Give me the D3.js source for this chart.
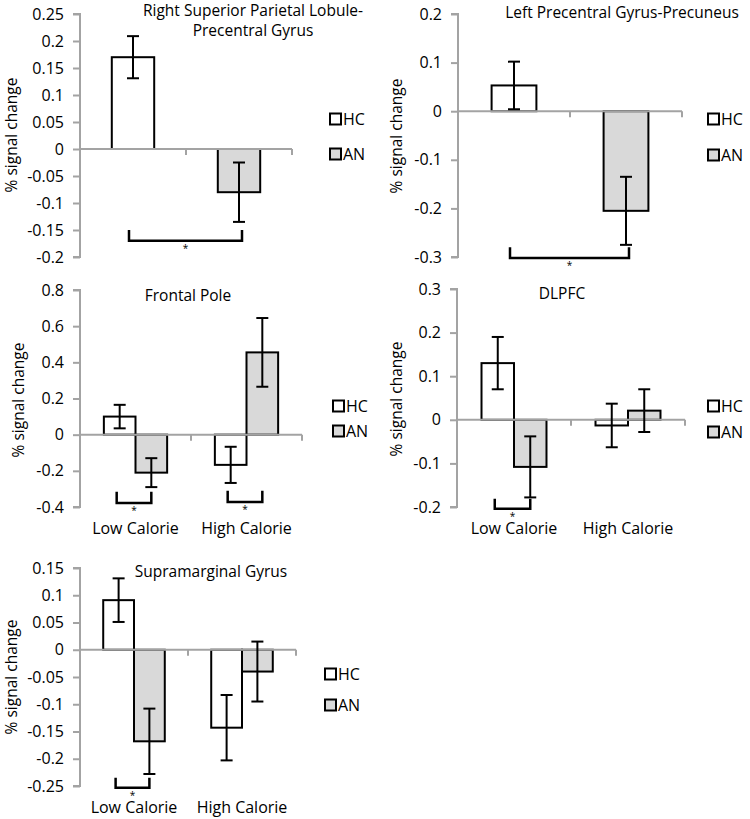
<!DOCTYPE html>
<html>
<head>
<meta charset="utf-8">
<script src="https://cdn.jsdelivr.net/npm/d3@7"></script>
<style>
  html, body { margin: 0; padding: 0; background: #fff; }
  svg text { font-family: "Open Sans", "Noto Sans", sans-serif; fill: #000; }
</style>
</head>
<body>
<svg id="chart" width="750" height="819"></svg>
<script>
// ---------- DATA ----------
const groups = ["HC", "AN"];
const calorieCats = ["Low Calorie", "High Calorie"];

// Panel 1: Right Superior Parietal Lobule-Precentral Gyrus
const p1Title = ["Right Superior Parietal Lobule-", "Precentral Gyrus"];
const p1Ticks = [0.25, 0.2, 0.15, 0.1, 0.05, 0, -0.05, -0.1, -0.15, -0.2];
const p1TickLabels = ["0.25", "0.2", "0.15", "0.1", "0.05", "0", "-0.05", "-0.1", "-0.15", "-0.2"];
const p1HC = [0.17];
const p1HCerr = [0.039];
const p1AN = [-0.08];
const p1ANerr = [0.055];
const p1Brackets = [{ cat: 0, low: -0.17, high: -0.15 }];

// Panel 2: Left Precentral Gyrus-Precuneus
const p2Title = ["Left Precentral Gyrus-Precuneus"];
const p2Ticks = [0.2, 0.1, 0, -0.1, -0.2, -0.3];
const p2TickLabels = ["0.2", "0.1", "0", "-0.1", "-0.2", "-0.3"];
const p2HC = [0.053];
const p2HCerr = [0.049];
const p2AN = [-0.205];
const p2ANerr = [0.07];
const p2Brackets = [{ cat: 0, low: -0.302, high: -0.28 }];

// Panel 3: Frontal Pole
const p3Title = ["Frontal Pole"];
const p3Ticks = [0.8, 0.6, 0.4, 0.2, 0, -0.2, -0.4];
const p3TickLabels = ["0.8", "0.6", "0.4", "0.2", "0", "-0.2", "-0.4"];
const p3HC = [0.10, -0.167];
const p3HCerr = [0.065, 0.10];
const p3AN = [-0.21, 0.455];
const p3ANerr = [0.08, 0.19];
const p3Brackets = [{ cat: 0, low: -0.378, high: -0.315 }, { cat: 1, low: -0.373, high: -0.31 }];

// Panel 4: DLPFC
const p4Title = ["DLPFC"];
const p4Ticks = [0.3, 0.2, 0.1, 0, -0.1, -0.2];
const p4TickLabels = ["0.3", "0.2", "0.1", "0", "-0.1", "-0.2"];
const p4HC = [0.13, -0.013];
const p4HCerr = [0.06, 0.05];
const p4AN = [-0.108, 0.021];
const p4ANerr = [0.07, 0.049];
const p4Brackets = [{ cat: 0, low: -0.204, high: -0.181 }];

// Panel 5: Supramarginal Gyrus
const p5Title = ["Supramarginal Gyrus"];
const p5Ticks = [0.15, 0.1, 0.05, 0, -0.05, -0.1, -0.15, -0.2, -0.25];
const p5TickLabels = ["0.15", "0.1", "0.05", "0", "-0.05", "-0.1", "-0.15", "-0.2", "-0.25"];
const p5HC = [0.091, -0.143];
const p5HCerr = [0.04, 0.06];
const p5AN = [-0.168, -0.04];
const p5ANerr = [0.06, 0.055];
const p5Brackets = [{ cat: 0, low: -0.253, high: -0.235 }];

// ---------- LAYOUT ----------
const panels = [
  { title: p1Title, ticks: p1Ticks, tickLabels: p1TickLabels, hc: p1HC, hcErr: p1HCerr, an: p1AN, anErr: p1ANerr,
    brackets: p1Brackets, single: true, cats: ["", ""],
    x0: 80, x1: 292, yTop: 14, yBot: 257, titleX: 253, titleY: 16, titleLH: 20,
    ylabX: 17, ylabY: 135, legX: 330, legY: [119, 154] },
  { title: p2Title, ticks: p2Ticks, tickLabels: p2TickLabels, hc: p2HC, hcErr: p2HCerr, an: p2AN, anErr: p2ANerr,
    brackets: p2Brackets, single: true, cats: ["", ""],
    x0: 458, x1: 682, yTop: 14, yBot: 257, titleX: 622, titleY: 18, titleLH: 21,
    ylabX: 402, ylabY: 136, legX: 708, legY: [119, 155] },
  { title: p3Title, ticks: p3Ticks, tickLabels: p3TickLabels, hc: p3HC, hcErr: p3HCerr, an: p3AN, anErr: p3ANerr,
    brackets: p3Brackets, single: false, cats: calorieCats,
    x0: 80, x1: 302, yTop: 290, yBot: 507, titleX: 188, titleY: 301, titleLH: 21,
    ylabX: 24, ylabY: 400, legX: 333, legY: [406, 431] },
  { title: p4Title, ticks: p4Ticks, tickLabels: p4TickLabels, hc: p4HC, hcErr: p4HCerr, an: p4AN, anErr: p4ANerr,
    brackets: p4Brackets, single: false, cats: calorieCats,
    x0: 457, x1: 685, yTop: 289, yBot: 507, titleX: 562, titleY: 299, titleLH: 21,
    ylabX: 402, ylabY: 399, legX: 708, legY: [406, 432] },
  { title: p5Title, ticks: p5Ticks, tickLabels: p5TickLabels, hc: p5HC, hcErr: p5HCerr, an: p5AN, anErr: p5ANerr,
    brackets: p5Brackets, single: false, cats: calorieCats,
    x0: 80, x1: 296, yTop: 568, yBot: 786, titleX: 211, titleY: 577, titleLH: 21,
    ylabX: 17, ylabY: 677, legX: 325, legY: [674, 705] }
];

const AXIS_COLOR = "#a3a3a3";
const AN_FILL = "#d9d9d9";
const svg = d3.select("#chart");

panels.forEach(p => {
  const g = svg.append("g");
  const y = d3.scaleLinear()
    .domain([p.ticks[p.ticks.length - 1], p.ticks[0]])
    .range([p.yBot, p.yTop]);
  const catIdx = p.cats.map((c, i) => i);
  const x = d3.scaleBand().domain(catIdx).range([p.x0, p.x1]).paddingInner(0).paddingOuter(0);
  const bw = x.bandwidth();

  let bars = [];
  if (p.single) {
    const w = bw * 0.4;
    bars.push({ grp: 0, cat: 0, v: p.hc[0], e: p.hcErr[0], x: x(0) + (bw - w) / 2, w });
    bars.push({ grp: 1, cat: 1, v: p.an[0], e: p.anErr[0], x: x(1) + (bw - w) / 2, w });
  } else {
    const w = bw * 0.285;
    catIdx.forEach(i => {
      const c = x(i) + bw / 2;
      bars.push({ grp: 0, cat: i, v: p.hc[i], e: p.hcErr[i], x: c - w, w });
      bars.push({ grp: 1, cat: i, v: p.an[i], e: p.anErr[i], x: c, w });
    });
  }

  // y axis
  const yAxis = d3.axisLeft(y).tickValues(p.ticks).tickSize(7).tickPadding(9)
    .tickFormat((d, i) => p.tickLabels[i]);
  const ya = g.append("g").attr("transform", `translate(${p.x0},0)`).call(yAxis);
  ya.select(".domain").attr("stroke", AXIS_COLOR).attr("stroke-width", 2)
    .attr("d", `M-7,${y(p.ticks[0])}H0V${y(p.ticks[p.ticks.length - 1])}H-7`);
  ya.selectAll(".tick line").attr("stroke", AXIS_COLOR).attr("stroke-width", 2);
  ya.selectAll(".tick text").style("font-size", "16px").attr("fill", "#000");

  // bars
  g.selectAll("rect.bar").data(bars).enter().append("rect")
    .attr("x", d => d.x)
    .attr("width", d => d.w)
    .attr("y", d => Math.min(y(d.v), y(0)))
    .attr("height", d => Math.abs(y(d.v) - y(0)))
    .attr("fill", d => d.grp === 0 ? "#ffffff" : AN_FILL)
    .attr("stroke", "#000").attr("stroke-width", 2);

  // zero line (category axis)
  g.append("line").attr("x1", p.x0).attr("x2", p.x1).attr("y1", y(0)).attr("y2", y(0))
    .attr("stroke", AXIS_COLOR).attr("stroke-width", 2);
  catIdx.forEach(i => {
    const xx = x(i) + bw;
    g.append("line").attr("x1", xx).attr("x2", xx).attr("y1", y(0)).attr("y2", y(0) + 6)
      .attr("stroke", AXIS_COLOR).attr("stroke-width", 2);
  });

  // error bars
  const cap = 6;
  bars.forEach(d => {
    const cx = d.x + d.w / 2;
    const eg = g.append("g").attr("stroke", "#000").attr("stroke-width", 2);
    eg.append("line").attr("x1", cx).attr("x2", cx).attr("y1", y(d.v + d.e)).attr("y2", y(d.v - d.e));
    eg.append("line").attr("x1", cx - cap).attr("x2", cx + cap).attr("y1", y(d.v + d.e)).attr("y2", y(d.v + d.e));
    eg.append("line").attr("x1", cx - cap).attr("x2", cx + cap).attr("y1", y(d.v - d.e)).attr("y2", y(d.v - d.e));
  });

  // significance brackets
  p.brackets.forEach(b => {
    const hb = bars.find(d => d.cat === b.cat && d.grp === 0);
    const ab = bars.find(d => d.cat === b.cat && d.grp === 1) || bars.find(d => d.grp === 1);
    const xa = hb.x + hb.w / 2 - (p.single ? 4 : 3);
    const xb = ab.x + ab.w / 2 + (p.single ? 3 : 0);
    g.append("path")
      .attr("d", `M${xa},${y(b.high)}V${y(b.low)}H${xb}V${y(b.high)}`)
      .attr("fill", "none").attr("stroke", "#000").attr("stroke-width", 2.5);
    g.append("text").attr("x", (xa + xb) / 2).attr("y", y(b.low) + 11)
      .attr("text-anchor", "middle").style("font-size", "10px").text("*");
  });

  // category labels
  if (!p.single) {
    catIdx.forEach(i => {
      g.append("text").attr("x", x(i) + bw / 2).attr("y", p.yBot + 27)
        .attr("text-anchor", "middle").style("font-size", "16px").text(p.cats[i]);
    });
  }

  // title
  p.title.forEach((t, i) => {
    g.append("text").attr("x", p.titleX).attr("y", p.titleY + i * p.titleLH)
      .attr("text-anchor", "middle").style("font-size", "15.5px").text(t);
  });

  // y-axis label
  g.append("text").attr("transform", `translate(${p.ylabX},${p.ylabY}) rotate(-90)`)
    .attr("text-anchor", "middle").style("font-size", "15.5px").text("% signal change");

  // legend
  groups.forEach((gname, i) => {
    const ly = p.legY[i];
    g.append("rect").attr("x", p.legX).attr("y", ly - 5.5).attr("width", 11).attr("height", 11)
      .attr("fill", i === 0 ? "#fff" : AN_FILL).attr("stroke", "#000").attr("stroke-width", 2);
    g.append("text").attr("x", p.legX + 13).attr("y", ly + 6).style("font-size", "16px").text(gname);
  });
});
</script>
</body>
</html>
